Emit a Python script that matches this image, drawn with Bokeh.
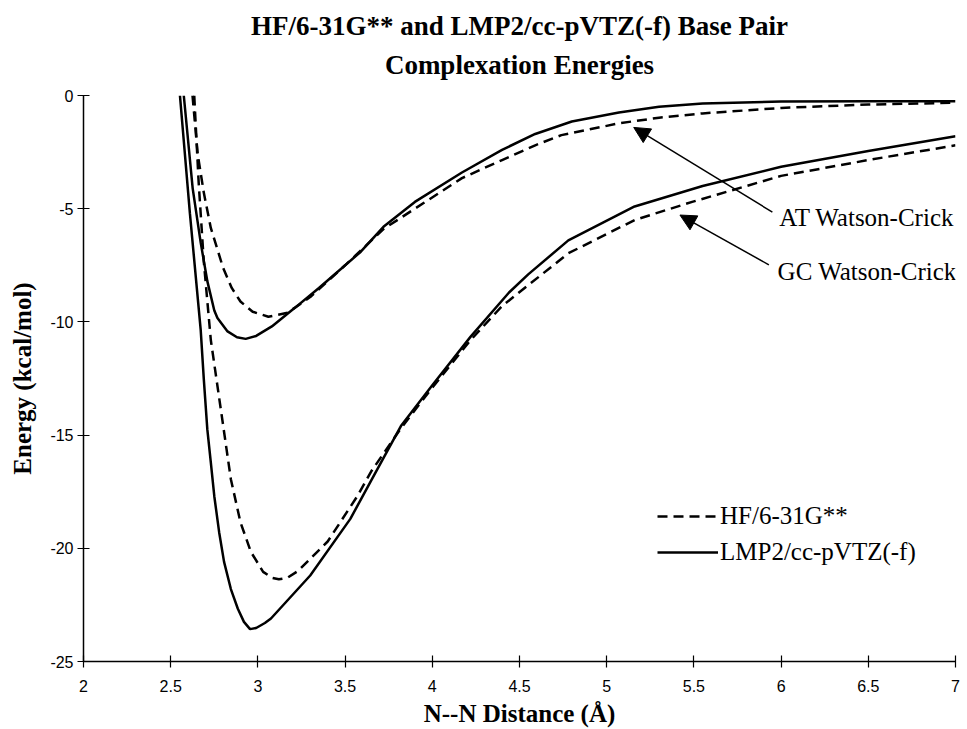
from bokeh.plotting import figure
from bokeh.models import (Range1d, FixedTicker, Title, Legend, LegendItem,
                          Label, Arrow, NormalHead)
from bokeh.embed import file_html
from bokeh.resources import INLINE

# ---------------- data ----------------
at_lmp2_x = [2.575, 2.626, 2.672, 2.71, 2.75, 2.768, 2.826, 2.88, 2.93, 2.99, 3.08,
             3.21, 3.35, 3.59, 3.72, 3.9, 4.17, 4.4, 4.59, 4.8, 5.07, 5.3, 5.55,
             6.0, 6.5, 7.0]
at_lmp2_y = [0.0, -4.1, -6.5, -8.2, -9.5, -9.83, -10.42, -10.68, -10.75, -10.62, -10.2,
             -9.39, -8.5, -6.9, -5.8, -4.7, -3.4, -2.4, -1.7, -1.15, -0.75, -0.5, -0.35,
             -0.27, -0.25, -0.25]

at_hf_x = [2.625, 2.655, 2.69, 2.73, 2.80, 2.85, 2.90, 2.97, 3.06, 3.17, 3.3, 3.5,
           3.72, 3.95, 4.17, 4.4, 4.59, 4.74, 5.07, 5.3, 5.55, 6.0, 6.5, 7.0]
at_hf_y = [0.0, -2.6, -4.3, -5.85, -7.6, -8.5, -9.1, -9.55, -9.77, -9.6, -8.9, -7.5,
           -5.9, -4.75, -3.65, -2.85, -2.2, -1.75, -1.23, -0.98, -0.79, -0.55, -0.4, -0.32]

gc_lmp2_x = [2.553, 2.61, 2.672, 2.69, 2.71, 2.73, 2.75, 2.778, 2.806, 2.845, 2.885,
             2.92, 2.955, 2.99, 3.04, 3.075, 3.30, 3.53, 3.65, 3.82, 4.0, 4.22, 4.44,
             4.55, 4.78, 5.16, 5.55, 6.0, 6.5, 7.0]
gc_lmp2_y = [0.0, -5.2, -10.35, -12.55, -14.75, -16.2, -17.7, -19.3, -20.6, -21.8, -22.67,
             -23.25, -23.57, -23.52, -23.3, -23.1, -21.2, -18.7, -17.0, -14.6, -12.8, -10.65,
             -8.7, -7.9, -6.4, -4.9, -4.0, -3.15, -2.45, -1.8]

gc_hf_x = [2.635, 2.66, 2.69, 2.73, 2.79, 2.845, 2.90, 2.96, 3.03, 3.08, 3.12, 3.17,
           3.23, 3.40, 3.57, 3.65, 3.82, 4.0, 4.22, 4.40, 4.78, 5.16, 5.49, 6.0, 6.5, 7.0]
gc_hf_y = [0.0, -3.8, -7.35, -10.8, -14.0, -16.95, -18.85, -20.16, -21.04, -21.3, -21.37,
           -21.3, -21.0, -19.7, -17.7, -16.6, -14.7, -12.9, -10.8, -9.3, -6.97, -5.5, -4.7,
           -3.55, -2.85, -2.2]

x_ticks = [2, 2.5, 3, 3.5, 4, 4.5, 5, 5.5, 6, 6.5, 7]
x_tick_labels = ["2", "2.5", "3", "3.5", "4", "4.5", "5", "5.5", "6", "6.5", "7"]
y_ticks = [-25, -20, -15, -10, -5, 0]
y_tick_labels = ["-25", "-20", "-15", "-10", "-5", "0"]

title_lines = ["HF/6-31G** and LMP2/cc-pVTZ(-f) Base Pair", "Complexation Energies"]
x_label = "N--N Distance (\u00c5)"
y_label = "Energy (kcal/mol)"
series_names = ["HF/6-31G**", "LMP2/cc-pVTZ(-f)"]
annot_text = ["AT Watson-Crick", "GC Watson-Crick"]
annot_pos = [(5.99, -5.41), (5.98, -7.79)]
arrow_from = [(5.95, -5.15), (5.93, -7.48)]
arrow_to = [(5.155, -1.41), (5.42, -5.28)]

SERIF = "Liberation Serif"
SANS = "Liberation Sans"

p = figure(width=967, height=729, output_backend="svg", toolbar_location=None,
           x_range=Range1d(2, 7), y_range=Range1d(-25, 0), title=None,
           min_border_left=83, min_border_right=12, min_border_top=95,
           min_border_bottom=66)
p.outline_line_color = None
p.xgrid.visible = False
p.ygrid.visible = False
p.background_fill_color = "white"
p.border_fill_color = "white"

# titles (first added = closest to frame)
t2 = Title(text=title_lines[1], align="center", text_font=SERIF,
           text_font_size="27px", text_font_style="bold", text_color="black",
           standoff=31)
t1 = Title(text=title_lines[0], align="center", text_font=SERIF,
           text_font_size="27px", text_font_style="bold", text_color="black",
           standoff=-16)
p.add_layout(t2, "above")
p.add_layout(t1, "above")

for ax in (p.xaxis[0], p.yaxis[0]):
    ax.axis_line_color = "black"
    ax.axis_line_width = 1.5
    ax.major_tick_line_color = "black"
    ax.major_tick_line_width = 1.2
    ax.major_tick_in = 6
    ax.major_tick_out = 6
    ax.minor_tick_line_color = None
    ax.major_label_text_font = SANS
    ax.major_label_text_font_size = "16px"
    ax.major_label_text_color = "black"
    ax.axis_label_text_font = SERIF
    ax.axis_label_text_font_style = "bold"
    ax.axis_label_text_font_size = "25px"
    ax.axis_label_text_color = "black"

p.xaxis.ticker = FixedTicker(ticks=x_ticks)
p.yaxis.ticker = FixedTicker(ticks=y_ticks)
p.xaxis.major_label_overrides = {float(v): s for v, s in zip(x_ticks, x_tick_labels)}
p.yaxis.major_label_overrides = {float(v): s for v, s in zip(y_ticks, y_tick_labels)}
p.xaxis.axis_label = x_label
p.yaxis.axis_label = y_label
p.xaxis.major_label_standoff = 12
p.yaxis.major_label_standoff = 4
p.xaxis.axis_label_standoff = 5
p.yaxis.axis_label_standoff = 11

DASH = "10 6"
r_at_hf = p.line(at_hf_x, at_hf_y, line_color="black", line_width=2.5, line_dash=DASH)
r_gc_hf = p.line(gc_hf_x, gc_hf_y, line_color="black", line_width=2.5, line_dash=DASH)
r_at_mp = p.line(at_lmp2_x, at_lmp2_y, line_color="black", line_width=2.5)
r_gc_mp = p.line(gc_lmp2_x, gc_lmp2_y, line_color="black", line_width=2.5)

legend = Legend(items=[LegendItem(label=series_names[0], renderers=[r_at_hf]),
                       LegendItem(label=series_names[1], renderers=[r_at_mp])],
                location=(574, 94), orientation="vertical",
                border_line_color=None, background_fill_alpha=0,
                label_text_font=SERIF, label_text_font_size="25px",
                label_text_color="black", glyph_width=61, glyph_height=30,
                label_height=30, label_standoff=2, spacing=6, padding=0, margin=0)
p.add_layout(legend, "center")

for (tx, ty), txt in zip(annot_pos, annot_text):
    p.add_layout(Label(x=tx, y=ty, text=txt, text_font=SERIF, text_font_size="25px",
                       text_color="black", text_baseline="middle", text_align="left"))

for (x0, y0), (x1, y1) in zip(arrow_from, arrow_to):
    p.add_layout(Arrow(x_start=x0, y_start=y0, x_end=x1, y_end=y1,
                       line_color="black", line_width=1.5,
                       end=NormalHead(size=16, fill_color="black", line_color="black",
                                      line_width=1)))

open("out.html", "w").write(file_html(p, INLINE))
